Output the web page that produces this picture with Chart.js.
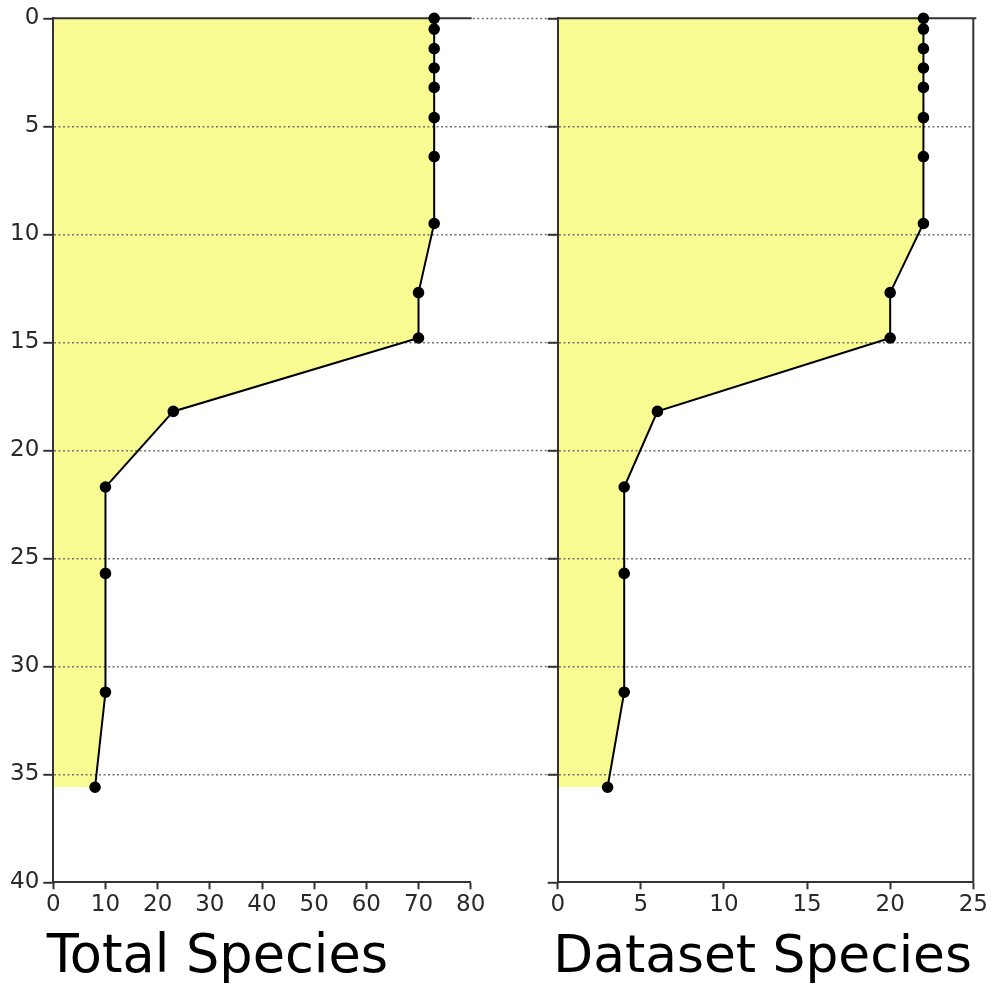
<!DOCTYPE html>
<html>
<head>
<meta charset="utf-8">
<script src="https://cdn.jsdelivr.net/npm/chart.js@4.4.1/dist/chart.umd.min.js"></script>
<style>
  html, body { margin: 0; padding: 0; background: #fff; }
  #wrap { position: relative; width: 993px; height: 985px; overflow: hidden; }
  canvas { position: absolute; top: 0; }
  #left { left: 0; }
  #right { left: 490px; }
</style>
</head>
<body>
<div id="wrap">
  <canvas id="left" width="560" height="985"></canvas>
  <canvas id="right" width="503" height="985"></canvas>
</div>
<script>
// Sampling depths (downwards) and species counts at each depth
const depths = [0, 0.5, 1.4, 2.3, 3.2, 4.6, 6.4, 9.5, 12.7, 14.8, 18.2, 21.7, 25.7, 31.2, 35.6];
const totalSpecies = [73, 73, 73, 73, 73, 73, 73, 73, 70, 70, 23, 10, 10, 10, 8];
const datasetSpecies = [22, 22, 22, 22, 22, 22, 22, 22, 20, 20, 6, 4, 4, 4, 3];

// Axis ranges and tick steps
const depthRange = { min: 0, max: 40, step: 5 };
const totalRange = { min: 0, max: 80, step: 10 };
const datasetRange = { min: 0, max: 25, step: 5 };
const panelTitles = ['Total Species', 'Dataset Species'];

const FONT = 'DejaVu Sans';
const AXIS = '#333333';
const GRID = '#707070';
const FILL = '#f8fa92';
const DASH = [2, 2.5];

Chart.defaults.font.family = FONT;
Chart.defaults.font.size = 23;
Chart.defaults.color = '#2a2a2a';

// Frame lines, gap grid lines and the panel caption
const framePlugin = {
  id: 'frame',
  beforeDatasetsDraw(chart, args, opts) {
    const { ctx, chartArea: a } = chart;
    ctx.save();
    ctx.strokeStyle = AXIS;
    ctx.lineWidth = 2;
    ctx.beginPath();
    ctx.moveTo(a.left, a.top);
    ctx.lineTo(a.right + (opts.closed ? 3 : 1), a.top);
    if (opts.closed) {
      ctx.moveTo(a.right, a.top);
      ctx.lineTo(a.right, a.bottom);
    }
    ctx.stroke();
    ctx.restore();
  },
  afterDraw(chart, args, opts) {
    const { ctx, chartArea: a } = chart;
    const y = chart.scales.y;
    ctx.save();
    if (opts.gap) {
      ctx.strokeStyle = GRID;
      ctx.lineWidth = 1.6;
      ctx.setLineDash(DASH);
      for (let v = depthRange.min; v < depthRange.max; v += depthRange.step) {
        const py = Math.round(y.getPixelForValue(v)) + 0.5;
        ctx.beginPath();
        ctx.moveTo(a.right + 2, py);
        ctx.lineTo(chart.width, py);
        ctx.stroke();
      }
      ctx.setLineDash([]);
    }
    ctx.fillStyle = '#000';
    ctx.font = opts.size + 'px "' + FONT + '"';
    ctx.textAlign = 'left';
    ctx.textBaseline = 'alphabetic';
    ctx.fillText(opts.text, a.left + opts.dx, a.bottom + 90);
    ctx.restore();
  }
};

function makePanel(canvasId, values, range, opts) {
  const points = values.map((v, i) => ({ x: v, y: depths[i] }));
  return new Chart(document.getElementById(canvasId), {
    type: 'line',
    data: {
      datasets: [{
        data: points,
        borderColor: '#000',
        borderWidth: 2,
        backgroundColor: FILL,
        fill: 'origin',
        pointRadius: 5,
        pointBorderWidth: 1.6,
        pointBackgroundColor: '#000',
        pointBorderColor: '#000',
        tension: 0,
        clip: false
      }]
    },
    options: {
      indexAxis: 'y',
      responsive: false,
      animation: false,
      events: [],
      layout: { padding: opts.padding },
      plugins: {
        legend: { display: false },
        tooltip: { enabled: false },
        filler: { drawTime: 'beforeDraw' },
        frame: { text: opts.title, size: opts.titleSize, dx: opts.dx, gap: opts.gap, closed: opts.closed }
      },
      scales: {
        y: {
          type: 'linear',
          reverse: true,
          min: depthRange.min,
          max: depthRange.max,
          afterFit(s) { s.width = opts.yWidth; },
          ticks: {
            stepSize: depthRange.step,
            padding: 4,
            callback: opts.showDepthLabels ? (v) => v : () => ''
          },
          grid: {
            color: (c) => (c.tick && (c.tick.value === depthRange.min || c.tick.value === depthRange.max)) ? 'rgba(0,0,0,0)' : GRID,
            lineWidth: 1.6,
            tickLength: 10,
            tickColor: AXIS,
            tickWidth: 2,
            tickBorderDash: []
          },
          border: { color: AXIS, width: 2, dash: DASH }
        },
        x: {
          type: 'linear',
          min: range.min,
          max: range.max,
          afterFit(s) { s.height = 102.7; },
          ticks: { stepSize: range.step, padding: 2, maxRotation: 0 },
          grid: {
            drawOnChartArea: false,
            tickLength: 7,
            tickColor: AXIS,
            tickWidth: 2
          },
          border: { color: AXIS, width: 2 }
        }
      }
    },
    plugins: [framePlugin]
  });
}

makePanel('left', totalSpecies, totalRange, {
  padding: { top: 18.3, right: 89.3, bottom: 0, left: 0 },
  yWidth: 53.3,
  showDepthLabels: true,
  title: panelTitles[0],
  titleSize: 52.5,
  dx: -6.6,
  gap: true,
  closed: false
});

makePanel('right', datasetSpecies, datasetRange, {
  padding: { top: 18.3, right: 19.7, bottom: 0, left: 0 },
  yWidth: 67.7,
  showDepthLabels: false,
  title: panelTitles[1],
  titleSize: 51.8,
  dx: -4.4,
  gap: false,
  closed: true
});
</script>
</body>
</html>
